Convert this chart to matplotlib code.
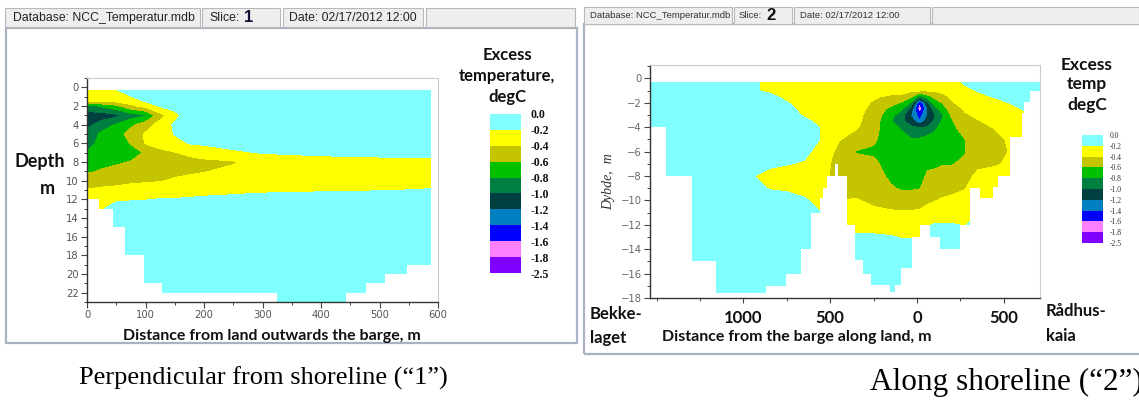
import matplotlib
matplotlib.use("Agg")
import matplotlib.pyplot as plt
import numpy as np
from matplotlib.patches import Rectangle
from matplotlib.ticker import MultipleLocator

# ---------------- data ----------------
levels = [-2.5, -1.8, -1.6, -1.4, -1.2, -1.0, -0.8, -0.6, -0.4, -0.2, 0.0]
band_colors = ['#8000ff', '#ff80ff', '#0000ff', '#0080c0', '#004040',
               '#008040', '#00c000', '#c4c400', '#ffff00', '#80ffff']
legend_labels = ['-2.5', '-1.8', '-1.6', '-1.4', '-1.2', '-1.0',
                 '-0.8', '-0.6', '-0.4', '-0.2', '0.0']

# Slice 1: distance from land (m) x depth (m)
dist1 = [0, 25, 50, 75, 100, 125, 150, 175, 200, 250, 300, 400, 500, 588]
depth1 = [0.3, 1, 1.5, 2, 3, 4, 5, 6, 7, 8, 9, 10, 11, 12, 13, 23]
temp1_by_column = [
    [-0.30, -0.34, -0.38, -0.85, -1.10, -1.05, -0.95, -0.90, -0.79, -0.72, -0.63, -0.50, -0.39, -0.30, -0.25, -0.1],
    [-0.28, -0.33, -0.38, -0.78, -1.10, -0.92, -0.76, -0.72, -0.70, -0.66, -0.58, -0.47, -0.37, -0.28, -0.22, -0.1],
    [-0.21, -0.30, -0.36, -0.65, -1.05, -0.78, -0.72, -0.70, -0.68, -0.63, -0.54, -0.45, -0.36, -0.23, -0.12, -0.1],
    [-0.10, -0.21, -0.30, -0.45, -0.90, -0.65, -0.50, -0.59, -0.68, -0.59, -0.50, -0.43, -0.34, -0.22, -0.10, -0.1],
    [-0.05, -0.12, -0.19, -0.33, -0.82, -0.50, -0.38, -0.39, -0.58, -0.56, -0.50, -0.42, -0.33, -0.21, -0.10, -0.1],
    [-0.03, -0.07, -0.12, -0.18, -0.48, -0.32, -0.30, -0.33, -0.45, -0.50, -0.47, -0.41, -0.32, -0.19, -0.10, -0.1],
    [-0.02, -0.05, -0.08, -0.13, -0.26, -0.17, -0.19, -0.28, -0.41, -0.47, -0.44, -0.38, -0.30, -0.19, -0.10, -0.1],
    [-0.02, -0.03, -0.04, -0.06, -0.10, -0.10, -0.12, -0.19, -0.36, -0.46, -0.43, -0.35, -0.28, -0.18, -0.10, -0.1],
    [-0.02, -0.02, -0.03, -0.04, -0.06, -0.08, -0.10, -0.17, -0.32, -0.44, -0.41, -0.33, -0.26, -0.17, -0.10, -0.1],
    [-0.02, -0.02, -0.02, -0.03, -0.05, -0.07, -0.09, -0.14, -0.23, -0.42, -0.35, -0.30, -0.25, -0.15, -0.10, -0.1],
    [-0.02, -0.02, -0.02, -0.03, -0.04, -0.06, -0.08, -0.12, -0.19, -0.32, -0.33, -0.28, -0.23, -0.14, -0.10, -0.1],
    [-0.02, -0.02, -0.02, -0.03, -0.04, -0.05, -0.07, -0.10, -0.15, -0.30, -0.30, -0.27, -0.22, -0.12, -0.10, -0.1],
    [-0.02, -0.02, -0.02, -0.03, -0.04, -0.05, -0.06, -0.09, -0.13, -0.28, -0.30, -0.27, -0.21, -0.10, -0.10, -0.1],
    [-0.02, -0.02, -0.02, -0.03, -0.04, -0.05, -0.06, -0.09, -0.13, -0.28, -0.30, -0.26, -0.19, -0.10, -0.10, -0.1],
]
seabed1_dist = [0, 21, 45, 65, 97, 128, 325, 442, 477, 510, 547, 588]
seabed1_depth = [12, 13, 15, 18, 21, 22, 23.2, 22, 21, 20, 19, 19]
xticks1 = [0, 100, 200, 300, 400, 500, 600]
yticks1 = [0, 2, 4, 6, 8, 10, 12, 14, 16, 18, 20, 22]

# Slice 2: distance along land from barge (m, negative towards Bekkelaget) x level (m)
dist2 = [-1535, -1300, -1100, -950, -850, -750, -650, -550, -450, -350, -250, -150,
         -90, -35, 15, 60, 100, 150, 200, 275, 350, 450, 550, 705]
level2 = [-0.3, -1, -1.5, -2, -2.5, -3, -3.5, -4, -5, -6, -7, -8, -9, -10, -11, -12, -13, -14, -18]
temp2_by_column = [
    [-0.1] * 19,
    [-0.1] * 19,
    [-0.1] * 19,
    [-0.12, -0.18, -0.15, -0.12, -0.10, -0.10, -0.10, -0.10, -0.10, -0.10, -0.14, -0.19, -0.15, -0.12, -0.10, -0.10, -0.10, -0.10, -0.1],
    [-0.30, -0.23, -0.16, -0.12, -0.10, -0.10, -0.10, -0.10, -0.10, -0.10, -0.15, -0.28, -0.21, -0.13, -0.10, -0.10, -0.10, -0.10, -0.1],
    [-0.32, -0.28, -0.24, -0.19, -0.15, -0.12, -0.10, -0.10, -0.10, -0.10, -0.19, -0.30, -0.22, -0.15, -0.10, -0.10, -0.10, -0.10, -0.1],
    [-0.34, -0.32, -0.30, -0.28, -0.25, -0.22, -0.17, -0.14, -0.12, -0.15, -0.22, -0.30, -0.26, -0.18, -0.12, -0.10, -0.10, -0.10, -0.1],
    [-0.36, -0.35, -0.34, -0.32, -0.30, -0.27, -0.24, -0.21, -0.21, -0.28, -0.32, -0.33, -0.30, -0.25, -0.20, -0.15, -0.10, -0.10, -0.1],
    [-0.30, -0.30, -0.31, -0.32, -0.33, -0.34, -0.35, -0.36, -0.39, -0.45, -0.48, -0.48, -0.45, -0.40, -0.30, -0.22, -0.15, -0.10, -0.1],
    [-0.27, -0.30, -0.32, -0.33, -0.34, -0.35, -0.36, -0.38, -0.48, -0.61, -0.55, -0.50, -0.45, -0.39, -0.32, -0.25, -0.18, -0.12, -0.1],
    [-0.25, -0.33, -0.38, -0.42, -0.45, -0.48, -0.50, -0.52, -0.57, -0.63, -0.56, -0.52, -0.47, -0.43, -0.37, -0.26, -0.18, -0.12, -0.1],
    [-0.24, -0.34, -0.43, -0.53, -0.66, -0.74, -0.79, -0.75, -0.72, -0.70, -0.68, -0.64, -0.58, -0.47, -0.38, -0.27, -0.19, -0.13, -0.1],
    [-0.24, -0.33, -0.45, -0.62, -0.76, -0.92, -0.96, -0.82, -0.75, -0.72, -0.70, -0.67, -0.62, -0.51, -0.38, -0.28, -0.21, -0.14, -0.1],
    [-0.25, -0.36, -0.58, -0.82, -1.08, -1.22, -1.10, -0.97, -0.78, -0.74, -0.71, -0.68, -0.62, -0.50, -0.38, -0.29, -0.21, -0.14, -0.1],
    [-0.26, -0.37, -0.90, -1.62, -1.75, -1.50, -1.38, -1.01, -0.78, -0.74, -0.71, -0.68, -0.61, -0.49, -0.37, -0.28, -0.21, -0.14, -0.1],
    [-0.26, -0.38, -0.70, -1.05, -1.22, -1.21, -1.10, -0.99, -0.72, -0.68, -0.64, -0.57, -0.50, -0.43, -0.34, -0.22, -0.14, -0.10, -0.1],
    [-0.26, -0.38, -0.55, -0.72, -0.90, -1.03, -0.98, -0.85, -0.72, -0.68, -0.63, -0.56, -0.49, -0.41, -0.31, -0.19, -0.12, -0.10, -0.1],
    [-0.26, -0.36, -0.45, -0.58, -0.68, -0.81, -0.76, -0.72, -0.68, -0.65, -0.61, -0.54, -0.46, -0.38, -0.30, -0.19, -0.13, -0.11, -0.1],
    [-0.25, -0.32, -0.37, -0.42, -0.50, -0.57, -0.62, -0.65, -0.67, -0.65, -0.61, -0.53, -0.45, -0.36, -0.28, -0.19, -0.13, -0.10, -0.1],
    [-0.18, -0.24, -0.28, -0.33, -0.38, -0.42, -0.46, -0.50, -0.605, -0.61, -0.57, -0.48, -0.41, -0.33, -0.27, -0.21, -0.14, -0.10, -0.1],
    [-0.12, -0.19, -0.24, -0.29, -0.33, -0.37, -0.41, -0.44, -0.48, -0.50, -0.45, -0.35, -0.30, -0.25, -0.20, -0.15, -0.10, -0.10, -0.1],
    [-0.08, -0.14, -0.19, -0.24, -0.28, -0.32, -0.36, -0.39, -0.45, -0.46, -0.42, -0.33, -0.28, -0.22, -0.18, -0.14, -0.10, -0.10, -0.1],
    [-0.05, -0.10, -0.15, -0.19, -0.23, -0.27, -0.30, -0.33, -0.36, -0.38, -0.36, -0.30, -0.25, -0.20, -0.15, -0.12, -0.10, -0.10, -0.1],
    [-0.05, -0.07, -0.10, -0.12, -0.14, -0.16, -0.17, -0.18, -0.19, -0.19, -0.18, -0.16, -0.14, -0.12, -0.10, -0.10, -0.10, -0.10, -0.1],
]
seabed2_dist = [-1538, -1446, -1296, -1157, -869, -753, -667, -609, -561, -542, -520, -475,
                -455, -405, -359, -311, -263, -157, -128, -90, -32, 15, 73, 131, 246, 304,
                362, 438, 467, 535, 602, 615, 650, 708]
seabed2_level = [-4.0, -8.0, -15.0, -17.6, -17.0, -16.0, -14.0, -11.0, -9.8, -9.0, -8.0, -7.0,
                 -8.0, -12.0, -14.9, -16.0, -16.9, -17.5, -16.9, -15.5, -13.0, -12.0, -13.0, -14.0, -12.0, -9.0,
                 -9.8, -8.9, -8.0, -4.8, -2.8, -1.9, -1.0, -1.0]
xticks2 = [-1000, -500, 0, 500]
xticklabels2 = ['1000', '500', '0', '500']
yticks2 = [0, -2, -4, -6, -8, -10, -12, -14, -16, -18]

# ---------------- figure ----------------
W, H = 1139, 400
fig = plt.figure(figsize=(W / 100, H / 100), dpi=100)
fig.patch.set_facecolor('white')


def rect(x0, y0, x1, y1):
    return [x0 / W, 1 - y1 / H, (x1 - x0) / W, (y1 - y0) / H]


def fbox(x0, y0, x1, y1, fc='none', ec='#b0b0b0', lw=1.0, z=0):
    fig.add_artist(Rectangle((x0 / W, 1 - y1 / H), (x1 - x0) / W, (y1 - y0) / H,
                             transform=fig.transFigure, facecolor=fc, edgecolor=ec,
                             lw=lw, zorder=z))


def ftext(x, y, s, **kw):
    fig.text(x / W, 1 - y / H, s, **kw)


BOLD = dict(family='Lato', fontweight='bold', color='#111111')

# window frames
fbox(6, 28, 577, 343, ec='#a8b2c0', lw=1.6)
fbox(584, 24, 1150, 354, ec='#a8b2c0', lw=1.6)

# header boxes panel 1
for (a, b) in [(5, 200), (202, 280), (283, 423), (426, 575)]:
    fbox(a, 8, b, 27, fc='#eeeeee', ec='#b8b8b8', lw=0.8)
ftext(13, 18, 'Database: NCC_Temperatur.mdb', family='Liberation Sans', fontsize=8.8, va='center', color='#222222')
ftext(209, 18, 'Slice:', family='Liberation Sans', fontsize=8.8, va='center', color='#222222')
ftext(244, 17, '1', family='Liberation Sans', fontsize=12, fontweight='bold', va='center', color='#111133')
ftext(289, 18, 'Date: 02/17/2012 12:00', family='Liberation Sans', fontsize=8.8, va='center', color='#222222')

# header boxes panel 2
for (a, b) in [(584, 732), (734, 792), (794, 930), (932, 1139)]:
    fbox(a, 7, b, 24, fc='#eeeeee', ec='#b8b8b8', lw=0.8)
ftext(590, 15.5, 'Database: NCC_Temperatur.mdb', family='Liberation Sans', fontsize=6.8, va='center', color='#333333')
ftext(739, 15.5, 'Slice:', family='Liberation Sans', fontsize=6.8, va='center', color='#333333')
ftext(766, 15, '2', family='Liberation Sans', fontsize=12, fontweight='bold', va='center', color='#111111')
ftext(800, 15.5, 'Date: 02/17/2012 12:00', family='Liberation Sans', fontsize=6.8, va='center', color='#333333')

cmap_kw = dict(levels=levels, colors=band_colors)

# ---------------- panel 1 ----------------
ax1 = fig.add_axes(rect(87, 78, 438, 302))
Z1 = np.array(temp1_by_column).T
cs1 = ax1.contourf(dist1, depth1, Z1, **cmap_kw, zorder=1)
ax1.fill_between(seabed1_dist, seabed1_depth, 30, step='post', color='white', lw=0, zorder=2)
ax1.set_xlim(0, 600)
ax1.set_ylim(23, -1)
ax1.set_xticks(xticks1)
ax1.set_yticks(yticks1)
ax1.xaxis.set_minor_locator(MultipleLocator(50))
ax1.yaxis.set_minor_locator(MultipleLocator(1))
ax1.tick_params(which='major', length=4, width=0.8, color='#444444', labelsize=7.2,
                labelcolor='#555555', pad=2)
ax1.tick_params(which='minor', length=2.5, width=0.7, color='#444444')
for lab in ax1.get_xticklabels() + ax1.get_yticklabels():
    lab.set_family('DejaVu Sans')
for s in ['left', 'bottom']:
    ax1.spines[s].set_color('#333333')
    ax1.spines[s].set_linewidth(1.0)
for s in ['top', 'right']:
    ax1.spines[s].set_color('#cccccc')
    ax1.spines[s].set_linewidth(0.8)

ftext(14, 161, 'Depth', fontsize=13, va='center', **BOLD)
ftext(40, 188, 'm', fontsize=13, va='center', **BOLD)
ftext(272, 336, 'Distance from land outwards the barge, m', fontsize=11.5, ha='center', va='center', **BOLD)

cax1 = fig.add_axes(rect(490, 114, 521, 273))
cb1 = fig.colorbar(cs1, cax=cax1, ticks=levels)
cb1.outline.set_visible(False)
cb1.ax.set_yticklabels(legend_labels)
cb1.ax.tick_params(length=0, pad=7, labelsize=8.5)
for lab in cb1.ax.get_yticklabels():
    lab.set_family('Liberation Serif')
    lab.set_fontweight('bold')
    lab.set_color('#111111')
ftext(507, 55, 'Excess', fontsize=12, ha='center', va='center', **BOLD)
ftext(507, 76, 'temperature,', fontsize=12, ha='center', va='center', **BOLD)
ftext(507, 97, 'degC', fontsize=12, ha='center', va='center', **BOLD)

ftext(263, 378, 'Perpendicular from shoreline (\u201c1\u201d)', family='Liberation Serif',
      fontsize=19, ha='center', va='center', color='black')

# ---------------- panel 2 ----------------
ax2 = fig.add_axes(rect(650, 65, 1040, 298))
Z2 = np.array(temp2_by_column).T
cs2 = ax2.contourf(dist2, level2, Z2, **cmap_kw, zorder=1)
ax2.fill_between(seabed2_dist, seabed2_level, -20, step='post', color='white', lw=0, zorder=2)
ax2.set_xlim(-1538, 708)
ax2.set_ylim(-18, 1.1)
ax2.set_yticks(yticks2)
ax2.set_yticklabels([('\u2212' + str(-v)) if v < 0 else str(v) for v in yticks2])
ax2.yaxis.set_minor_locator(MultipleLocator(1))
ax2.set_xticks(xticks2)
ax2.set_xticklabels(xticklabels2)
ax2.xaxis.set_minor_locator(MultipleLocator(250))
ax2.tick_params(axis='y', which='major', length=4, width=0.8, color='#444444', labelsize=7.2,
                labelcolor='#666666', pad=2)
ax2.tick_params(axis='x', which='major', length=3.5, width=0.8, color='#444444', pad=5,
                labelsize=12)
ax2.tick_params(which='minor', length=2.5, width=0.7, color='#444444')
for lab in ax2.get_yticklabels():
    lab.set_family('DejaVu Sans')
for lab in ax2.get_xticklabels():
    lab.set_family('Lato')
    lab.set_fontweight('bold')
    lab.set_color('#111111')
for s in ['left', 'bottom']:
    ax2.spines[s].set_color('#333333')
    ax2.spines[s].set_linewidth(1.0)
for s in ['top', 'right']:
    ax2.spines[s].set_color('#cccccc')
    ax2.spines[s].set_linewidth(0.8)
ax2.set_ylabel('Dybde,  m', family='Liberation Serif', style='italic', fontsize=10,
               color='#333333', labelpad=4)

ftext(590, 314, 'Bekke-', fontsize=12, ha='left', va='center', **BOLD)
ftext(590, 338, 'laget', fontsize=12, ha='left', va='center', **BOLD)
ftext(1046, 311, 'R\u00e5dhus-', fontsize=12, ha='left', va='center', **BOLD)
ftext(1046, 336, 'kaia', fontsize=12, ha='left', va='center', **BOLD)
ftext(662, 337, 'Distance from the barge along land, m', fontsize=11.5, ha='left', va='center', **BOLD)

cax2 = fig.add_axes(rect(1082, 135, 1103, 243))
cb2 = fig.colorbar(cs2, cax=cax2, ticks=levels)
cb2.outline.set_visible(False)
cb2.ax.set_yticklabels(legend_labels)
cb2.ax.tick_params(length=0, pad=5, labelsize=5.5)
for lab in cb2.ax.get_yticklabels():
    lab.set_family('Liberation Serif')
    lab.set_color('#333333')
ftext(1087, 65, 'Excess', fontsize=12.5, ha='center', va='center', **BOLD)
ftext(1087, 84, 'temp', fontsize=12.5, ha='center', va='center', **BOLD)
ftext(1087, 105, 'degC', fontsize=12.5, ha='center', va='center', **BOLD)

ftext(870, 382, 'Along shoreline (\u201c2\u201d)', family='Liberation Serif',
      fontsize=22.5, ha='left', va='center', color='black')

fig.savefig('out.png', dpi=100)
